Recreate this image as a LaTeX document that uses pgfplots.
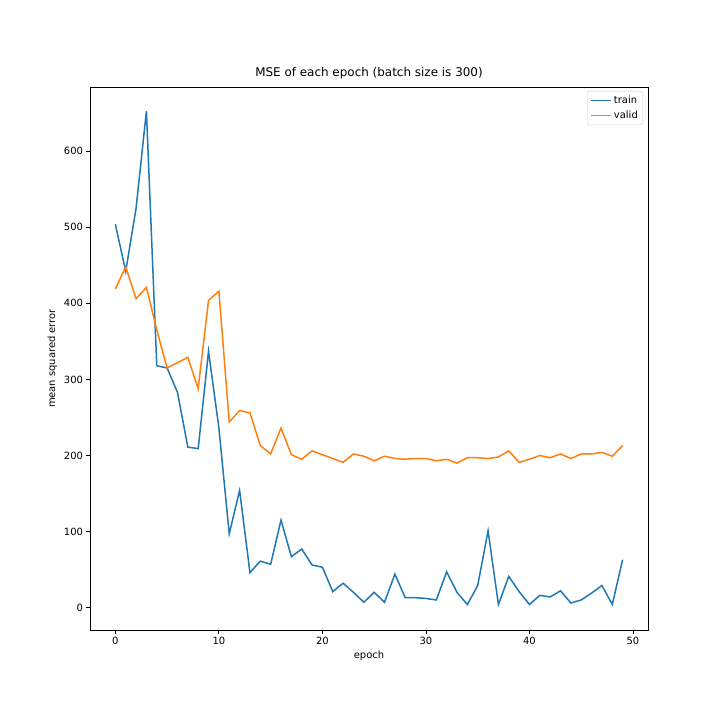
\documentclass[border=0pt]{standalone}
\usepackage{fontspec}
\setmainfont{DejaVu Sans}
\usepackage{pgfplots}
\pgfplotsset{compat=1.18}
\definecolor{tabblue}{HTML}{1F77B4}
\definecolor{taborange}{HTML}{FF7F0E}
\begin{document}
\begin{tikzpicture}
\begin{axis}[
  name=ax,
  scale only axis,
  width=558bp, height=543bp,
  xmin=-2.45, xmax=51.45, ymin=-29.5, ymax=684.5,
  xtick={0,10,20,30,40,50},
  ytick={0,100,200,300,400,500,600},
  tick pos=left,
  tick align=outside,
  major tick length=3.5bp,
  tick style={black, line width=0.8bp},
  axis line style={line width=0.8bp},
  every tick label/.style={font=\fontsize{10}{12}\selectfont},
  /pgf/number format/assume math mode=true,
  xlabel={epoch},
  ylabel={mean squared error},
  label style={font=\fontsize{10}{12}\selectfont},
  title={MSE of each epoch (batch size is 300)},
  title style={font=\fontsize{12}{14}\selectfont, yshift=-1bp},
  legend style={at={(1,1)}, anchor=north east, xshift=-5bp, yshift=-4bp,
    draw=black!20, rounded corners=2bp, font=\fontsize{10}{12}\selectfont,
    inner xsep=3bp, inner ysep=3bp, row sep=1.5bp},
  legend cell align=left,
  legend image code/.code={\draw[#1, line width=1.5bp] (0bp,0bp) -- (20bp,0bp);},
]
\addplot[tabblue, line width=1.5bp] coordinates {
(0,504) (1,442) (2,525) (3,653) (4,318) (5,315) (6,283) (7,211) (8,209) (9,337)
(10,236) (11,97) (12,154) (13,46) (14,61) (15,57) (16,115) (17,67) (18,77) (19,56)
(20,53) (21,21) (22,32) (23,20) (24,7) (25,20) (26,7) (27,44) (28,13) (29,13)
(30,12) (31,10) (32,47) (33,20) (34,4) (35,29) (36,101) (37,4) (38,41) (39,21)
(40,4) (41,16) (42,14) (43,22) (44,6) (45,10) (46,19) (47,29) (48,4) (49,63)
};
\addlegendentry{train}
\addplot[taborange, line width=1.5bp] coordinates {
(0,419) (1,448) (2,406) (3,421) (4,365) (5,315) (6,322) (7,329) (8,288) (9,404)
(10,416) (11,244) (12,259) (13,256) (14,213) (15,202) (16,236) (17,201) (18,195) (19,206)
(20,201) (21,196) (22,191) (23,202) (24,199) (25,193) (26,199) (27,196) (28,195) (29,196)
(30,196) (31,193) (32,195) (33,190) (34,197) (35,197) (36,196) (37,198) (38,206) (39,191)
(40,195) (41,200) (42,197) (43,202) (44,196) (45,202) (46,202) (47,204) (48,199) (49,213)
};
\addlegendentry{valid}
\end{axis}
\path[use as bounding box] ([shift={(-90bp,-90bp)}]ax.south west) rectangle ([shift={(72bp,87bp)}]ax.north east);
\end{tikzpicture}
\end{document}
